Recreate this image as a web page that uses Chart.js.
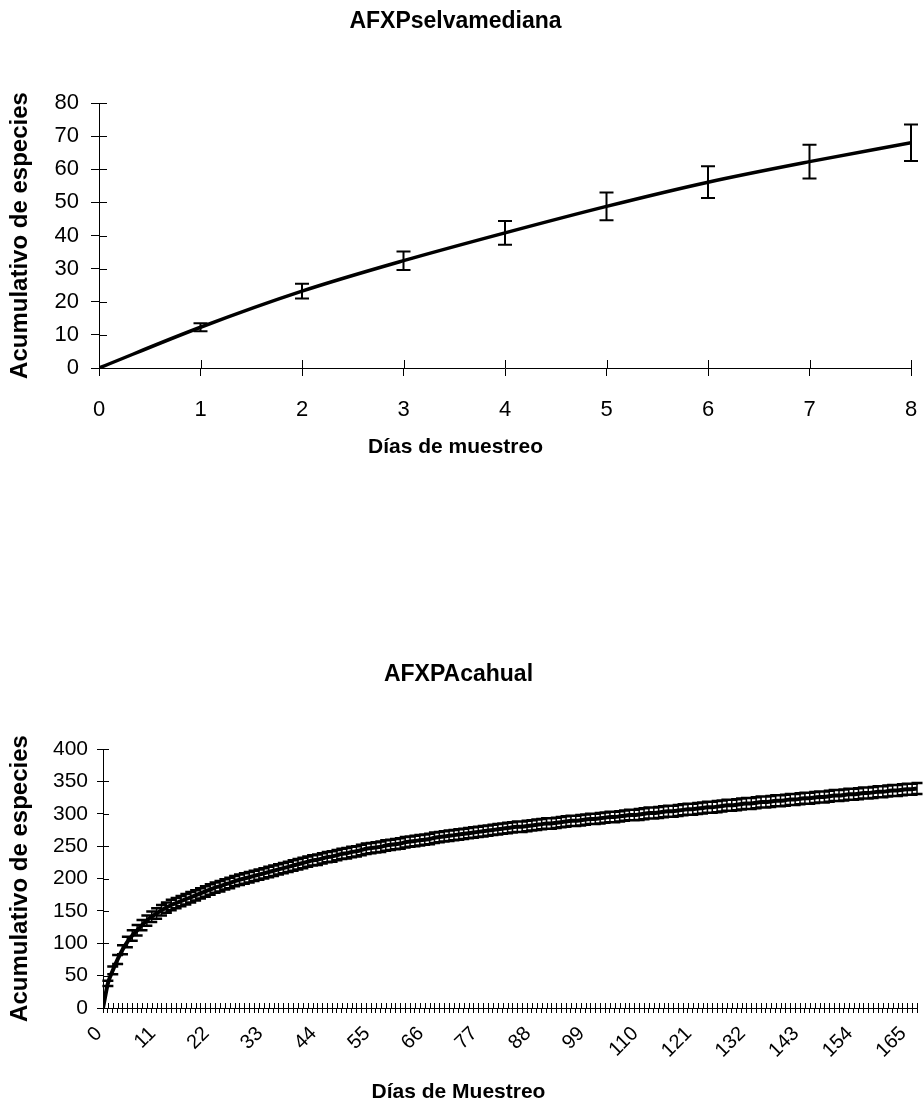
<!DOCTYPE html>
<html>
<head>
<meta charset="utf-8">
<script src="https://cdn.jsdelivr.net/npm/chart.js@4/dist/chart.umd.min.js"></script>
<style>
  html, body { margin: 0; padding: 0; background: #fff; }
  body { width: 923px; height: 1116px; position: relative; overflow: hidden; }
  canvas { position: absolute; left: 0; }
  #c1 { top: 0; }
  #c2 { top: 580px; }
</style>
</head>
<body>
<canvas id="c1" width="923" height="480"></canvas>
<canvas id="c2" width="923" height="536"></canvas>
<script>
// ---------- Chart 1: AFXPselvamediana ----------
const selvaDays = [0, 1, 2, 3, 4, 5, 6, 7, 8];
const selvaMean = [0, 12.3, 23.2, 32.4, 40.8, 48.8, 56.1, 62.3, 68.0];
const selvaErr  = [0, 1.2, 2.2, 2.8, 3.6, 4.2, 4.8, 5.1, 5.5];

// ---------- Chart 2: AFXPAcahual ----------
const acahualMean = [
  0, 38, 58, 75, 90, 102, 112, 120, 128, 135,
  141, 146, 151, 155, 159, 162, 165, 168, 171, 174,
  177, 180, 183, 186, 188, 191, 193, 196, 198, 200,
  202, 204, 206, 208, 210, 212, 214, 216, 218, 220,
  222, 224, 226, 228, 229, 231, 233, 234, 236, 238,
  239, 241, 242, 244, 246, 247, 248, 249, 251, 252,
  253, 254, 256, 257, 258, 259, 260, 261, 263, 264,
  265, 266, 267, 268, 269, 270, 271, 272, 273, 274,
  275, 276, 277, 278, 279, 280, 280, 281, 282, 283,
  284, 285, 285, 286, 287, 288, 289, 289, 290, 291,
  292, 292, 293, 294, 295, 295, 296, 297, 298, 298,
  299, 300, 301, 301, 302, 303, 304, 304, 305, 306,
  307, 307, 308, 309, 310, 310, 311, 312, 313, 313,
  314, 315, 316, 316, 317, 318, 318, 319, 320, 320,
  321, 322, 322, 323, 324, 324, 325, 326, 326, 327,
  328, 328, 329, 330, 330, 331, 332, 332, 333, 334,
  334, 335, 336, 336, 337, 338, 338, 339
];
const acahualErr = [
  0, 4, 6, 7, 7, 8, 8, 8, 8, 8,
  8, 8, 8, 8, 8, 8, 8, 8, 8, 8,
  8, 8, 8, 8, 8, 8, 8, 8, 8, 8,
  8, 8, 8, 8, 8, 8, 8, 8, 8, 8,
  8, 8, 8, 8, 8, 8, 8, 8, 8, 8,
  8, 8, 8, 8, 8, 8, 8, 8, 8, 8,
  8, 8, 8, 8, 8, 8, 8, 8, 8, 8,
  8, 8, 8, 8, 8, 8, 8, 8, 8, 8,
  8, 8, 8, 8, 8, 8, 8, 8, 8, 8,
  8, 8, 8, 8, 8, 8, 8, 8, 8, 8,
  8, 8, 8, 8, 8, 8, 8, 8, 8, 8,
  8.5, 8.5, 8.5, 8.5, 8.5, 8.5, 8.5, 8.5, 8.5, 8.5,
  8.5, 8.5, 8.5, 8.5, 8.5, 8.5, 8.5, 8.5, 8.5, 8.5,
  8.5, 8.5, 8.5, 8.5, 8.5, 8.5, 8.5, 8.5, 8.5, 8.5,
  8.5, 8.5, 8.5, 8.5, 8.5, 8.5, 8.5, 8.5, 8.5, 8.5,
  8.5, 8.5, 8.5, 8.5, 8.5, 8.5, 8.5, 8.5, 8.5, 8.5,
  8.5, 8.5, 8.5, 8.5, 8.5, 8.5, 8.5, 8.5
];
const acahualTickLabels = ['0','11','22','33','44','55','66','77','88','99','110','121','132','143','154','165'];

const FAMILY = "'Liberation Sans', Arial, Helvetica, sans-serif";
Chart.defaults.color = '#000';
Chart.defaults.font.family = FAMILY;

function crossTicks(xLen, yLen) {
  return {
    id: 'crossTicks',
    beforeDatasetsDraw(chart) {
      const {ctx, chartArea: a, scales: {x, y}} = chart;
      ctx.save();
      ctx.strokeStyle = '#000';
      ctx.lineWidth = 1;
      ctx.beginPath();
      x.ticks.forEach(t => {
        const px = Math.round(x.getPixelForValue(t.value)) + 0.5;
        ctx.moveTo(px, a.bottom);
        ctx.lineTo(px, a.bottom - xLen);
      });
      y.ticks.forEach(t => {
        const py = Math.round(y.getPixelForValue(t.value)) + 0.5;
        ctx.moveTo(a.left, py);
        ctx.lineTo(a.left + yLen, py);
      });
      ctx.stroke();
      ctx.restore();
    }
  };
}

function errorBars(errors, width, capWidth, cap) {
  return {
    id: 'errorBars',
    afterDatasetsDraw(chart) {
      const {ctx, scales: {x, y}} = chart;
      const pts = chart.data.datasets[0].data;
      ctx.save();
      ctx.strokeStyle = '#000';
      ctx.lineWidth = width;
      ctx.beginPath();
      pts.forEach((p, i) => {
        const e = errors[i];
        if (!e) return;
        const px = x.getPixelForValue(p.x);
        ctx.moveTo(px, y.getPixelForValue(p.y + e));
        ctx.lineTo(px, y.getPixelForValue(p.y - e));
      });
      ctx.stroke();
      ctx.lineWidth = capWidth;
      ctx.beginPath();
      pts.forEach((p, i) => {
        const e = errors[i];
        if (!e) return;
        const px = x.getPixelForValue(p.x);
        const t = y.getPixelForValue(p.y + e);
        const b = y.getPixelForValue(p.y - e);
        ctx.moveTo(px - cap / 2, t); ctx.lineTo(px + cap / 2, t);
        ctx.moveTo(px - cap / 2, b); ctx.lineTo(px + cap / 2, b);
      });
      ctx.stroke();
      ctx.restore();
    }
  };
}

function noSidePad(s) { s.paddingLeft = 0; s.paddingRight = 0; }

// ----- Chart 1 -----
new Chart(document.getElementById('c1'), {
  type: 'line',
  data: {
    datasets: [{
      data: selvaDays.map((d, i) => ({x: d, y: selvaMean[i]})),
      borderColor: '#000',
      borderWidth: 3.5,
      pointRadius: 0,
      cubicInterpolationMode: 'monotone',
      fill: false
    }]
  },
  options: {
    responsive: false,
    animation: false,
    events: [],
    layout: {padding: {left: 0, right: 12, top: 0, bottom: 0}},
    plugins: {
      legend: {display: false},
      tooltip: {enabled: false},
      title: {
        display: true, text: 'AFXPselvamediana', color: '#000',
        font: {size: 23, weight: 'bold', family: FAMILY},
        padding: {top: 8.2, bottom: 67.2}
      },
      subtitle: {
        display: true, position: 'bottom', text: 'Días de muestreo', color: '#000',
        font: {size: 21, weight: 'bold', family: FAMILY},
        padding: {top: 4.4, bottom: 20.4}
      }
    },
    scales: {
      x: {
        type: 'linear', min: 0, max: 8,
        afterFit: s => { s.height = 62; noSidePad(s); },
        ticks: {stepSize: 1, font: {size: 22, family: FAMILY}, color: '#000', padding: 21, maxRotation: 0},
        grid: {drawOnChartArea: false, tickLength: 8, color: '#000'},
        border: {display: true, color: '#000', width: 1}
      },
      y: {
        min: 0, max: 80,
        afterFit: s => { s.width = 99; },
        ticks: {stepSize: 10, font: {size: 22, family: FAMILY}, color: '#000', padding: 12},
        grid: {drawOnChartArea: false, tickLength: 8, color: '#000'},
        border: {display: true, color: '#000', width: 1},
        title: {
          display: true, text: 'Acumulativo de especies', color: '#000',
          font: {size: 24, weight: 'bold', family: FAMILY},
          padding: {top: 6, bottom: 0}
        }
      }
    }
  },
  plugins: [crossTicks(8, 8), errorBars(selvaErr, 2, 2, 14)]
});

// ----- Chart 2 -----
new Chart(document.getElementById('c2'), {
  type: 'line',
  data: {
    datasets: [{
      data: acahualMean.map((v, i) => ({x: i, y: v})),
      borderColor: '#000',
      borderWidth: 4,
      pointRadius: 0,
      cubicInterpolationMode: 'monotone',
      fill: false
    }]
  },
  options: {
    responsive: false,
    animation: false,
    events: [],
    layout: {padding: {left: 0, right: 6, top: 0, bottom: 0}},
    plugins: {
      legend: {display: false},
      tooltip: {enabled: false},
      title: {
        display: true, text: 'AFXPAcahual', color: '#000',
        font: {size: 23, weight: 'bold', family: FAMILY},
        padding: {top: 81.2, bottom: 60.2}
      },
      subtitle: {
        display: true, position: 'bottom', text: 'Días de Muestreo', color: '#000',
        font: {size: 21, weight: 'bold', family: FAMILY},
        padding: {top: 9.4, bottom: 11.4}
      }
    },
    scales: {
      x: {
        type: 'linear', min: 0, max: acahualMean.length - 1,
        afterFit: s => { s.height = 62; noSidePad(s); },
        ticks: {
          stepSize: 1, autoSkip: false, minRotation: 45, maxRotation: 45,
          font: {size: 20, family: FAMILY}, color: '#000', padding: 9, labelOffset: -4,
          callback: v => acahualTickLabels.includes(String(v)) ? String(v) : ''
        },
        grid: {drawOnChartArea: false, tickLength: 5, color: '#000'},
        border: {display: true, color: '#000', width: 1}
      },
      y: {
        min: 0, max: 400,
        afterFit: s => { s.width = 103; },
        ticks: {stepSize: 50, font: {size: 21, family: FAMILY}, color: '#000', padding: 9},
        grid: {drawOnChartArea: false, tickLength: 6, color: '#000'},
        border: {display: true, color: '#000', width: 1},
        title: {
          display: true, text: 'Acumulativo de especies', color: '#000',
          font: {size: 24, weight: 'bold', family: FAMILY},
          padding: {top: 6, bottom: 0}
        }
      }
    }
  },
  plugins: [crossTicks(5, 6), errorBars(acahualErr, 1.5, 2.5, 11)]
});
</script>
</body>
</html>
